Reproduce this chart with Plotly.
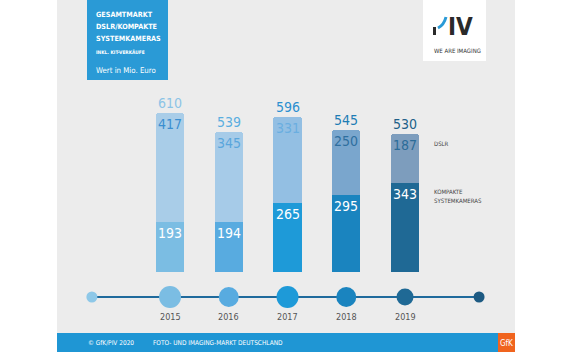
import plotly.graph_objects as go

# ---------------- data ----------------
years = [2015, 2016, 2017, 2018, 2019]
kompakt = [193, 194, 265, 295, 343]          # Kompakte Systemkameras (Mio. Euro)
dslr = [417, 345, 331, 250, 187]             # DSLR (Mio. Euro)
totals = [610, 539, 596, 545, 530]           # Gesamtmarkt
year_labels = ["2015", "2016", "2017", "2018", "2019"]

# ---------------- styles ----------------
W, H = 573, 352
def X(p): return p / W
def Y(p): return 1 - p / H

FONT = "DejaVu Sans Condensed"
low_colors = ["#7bbde3", "#58abe0", "#1e9ad8", "#1a84bf", "#1f6995"]
up_colors = ["#a9cde8", "#a6cbe8", "#93bfe3", "#7aa6cd", "#7d9dbd"]
up_text_colors = ["#3b8fd0", "#5aa6dc", "#6aaee0", "#2f6f9f", "#2c6c98"]
tot_text_colors = ["#8cc4e6", "#5aaee0", "#2b8fd0", "#1e7db5", "#215f88"]
dot_colors = ["#8ec8e8"] + low_colors + ["#1d5a82"]
dot_sizes = [11, 22, 20, 22, 20, 17, 11]

fig = go.Figure()

fig.add_trace(go.Bar(x=years, y=kompakt, marker=dict(color=low_colors, line_width=0),
                     width=0.48, hoverinfo="skip", name="Kompakte Systemkameras"))
fig.add_trace(go.Bar(x=years, y=dslr, marker=dict(color=up_colors, line_width=0),
                     width=0.48, hoverinfo="skip", name="DSLR"))

# timeline
tl_x = [years[0] - 1.33] + years + [years[-1] + 1.26]
fig.add_trace(go.Scatter(x=[tl_x[0], tl_x[-1]], y=[0, 0], mode="lines",
                         line=dict(color="#1f6a9c", width=2), yaxis="y2",
                         hoverinfo="skip", showlegend=False))
fig.add_trace(go.Scatter(x=tl_x, y=[0] * len(tl_x), mode="markers",
                         marker=dict(color=dot_colors, size=dot_sizes, line_width=0, opacity=1),
                         yaxis="y2", hoverinfo="skip", showlegend=False))

ann = []
for i, yr in enumerate(years):
    ann.append(dict(x=yr, y=totals[i], xref="x", yref="y", text=str(totals[i]),
                    showarrow=False, yanchor="middle", yshift=10,
                    font=dict(family=FONT, size=14, color=tot_text_colors[i])))
    ann.append(dict(x=yr, y=totals[i], xref="x", yref="y", text=str(dslr[i]),
                    showarrow=False, yanchor="middle", yshift=-11,
                    font=dict(family=FONT, size=14, color=up_text_colors[i])))
    ann.append(dict(x=yr, y=kompakt[i], xref="x", yref="y", text=str(kompakt[i]),
                    showarrow=False, yanchor="middle", yshift=-11,
                    font=dict(family=FONT, size=14, color="#ffffff")))
    ann.append(dict(x=yr, y=-1, xref="x", yref="y2", text=year_labels[i],
                    showarrow=False, yanchor="middle",
                    font=dict(family=FONT, size=9, color="#555555")))

def ptext(txt, px, py, size, color, bold=False, anchor="left", family=FONT):
    return dict(x=X(px), y=Y(py), xref="paper", yref="paper", xanchor=anchor, yanchor="middle",
                text=("<b>%s</b>" % txt) if bold else txt, showarrow=False,
                font=dict(family=family, size=size, color=color))

# title box texts
ann += [
    ptext("GESAMTMARKT", 94, 15, 7.2, "white", True),
    ptext("DSLR/KOMPAKTE", 94, 27, 7.2, "white", True),
    ptext("SYSTEMKAMERAS", 94, 38.5, 7.2, "white", True),
    ptext("INKL. KIT-VERKÄUFE", 94, 52, 4.8, "white", True),
    ptext("Wert in Mio. Euro", 94, 70, 7.8, "white", False),
    ptext("DSLR", 432, 143, 6, "#444444"),
    ptext("KOMPAKTE", 432, 191, 6, "#444444"),
    ptext("SYSTEMKAMERAS", 432, 200, 6, "#444444"),
    ptext("WE ARE IMAGING", 432, 50, 6, "#333333"),
    ptext("<b>IV</b>", 446, 27, 24, "#2a2a2a"),
    ptext("© GfK/PIV 2020", 86, 343, 6.5, "white"),
    ptext("FOTO- UND IMAGING-MARKT DEUTSCHLAND", 151, 343, 6.5, "white"),
    ptext("GfK", 506.5, 343, 8, "white", anchor="center"),
]

def rect(x0, y0, x1, y1, color):
    return dict(type="rect", xref="paper", yref="paper", x0=X(x0), x1=X(x1), y0=Y(y1), y1=Y(y0),
                fillcolor=color, line_width=0, layer="below")

shapes = [
    rect(57, 0, 515, 333, "#ececec"),
    rect(57, 333, 498, 352, "#1f96d4"),
    rect(498, 333, 515, 352, "#f0641e"),
    rect(87, 0, 168, 80, "#2a9ad6"),
    rect(423, 0, 486, 61, "#ffffff"),
    rect(433, 27, 436, 35, "#2a2a2a"),
    dict(type="path", xref="paper", yref="paper",
         path="M %f,%f Q %f,%f %f,%f" % (X(438), Y(28), X(444), Y(25), X(446), Y(17)),
         line=dict(color="#2a9ad6", width=3), layer="above"),
]

fig.update_layout(
    width=W, height=H, margin=dict(l=0, r=0, t=0, b=0),
    paper_bgcolor="white", plot_bgcolor="rgba(0,0,0,0)",
    barmode="stack", bargap=0, barcornerradius=3, showlegend=False,
    xaxis=dict(range=[2012.106, 2021.859], domain=[0, 1], visible=False, fixedrange=True),
    yaxis=dict(range=[0, 650], domain=[Y(272), Y(103)], visible=False, fixedrange=True),
    yaxis2=dict(range=[-1, 1], domain=[Y(317), Y(277)], visible=False, fixedrange=True, anchor="x"),
    annotations=ann, shapes=shapes,
)

fig.write_html("out.html")
